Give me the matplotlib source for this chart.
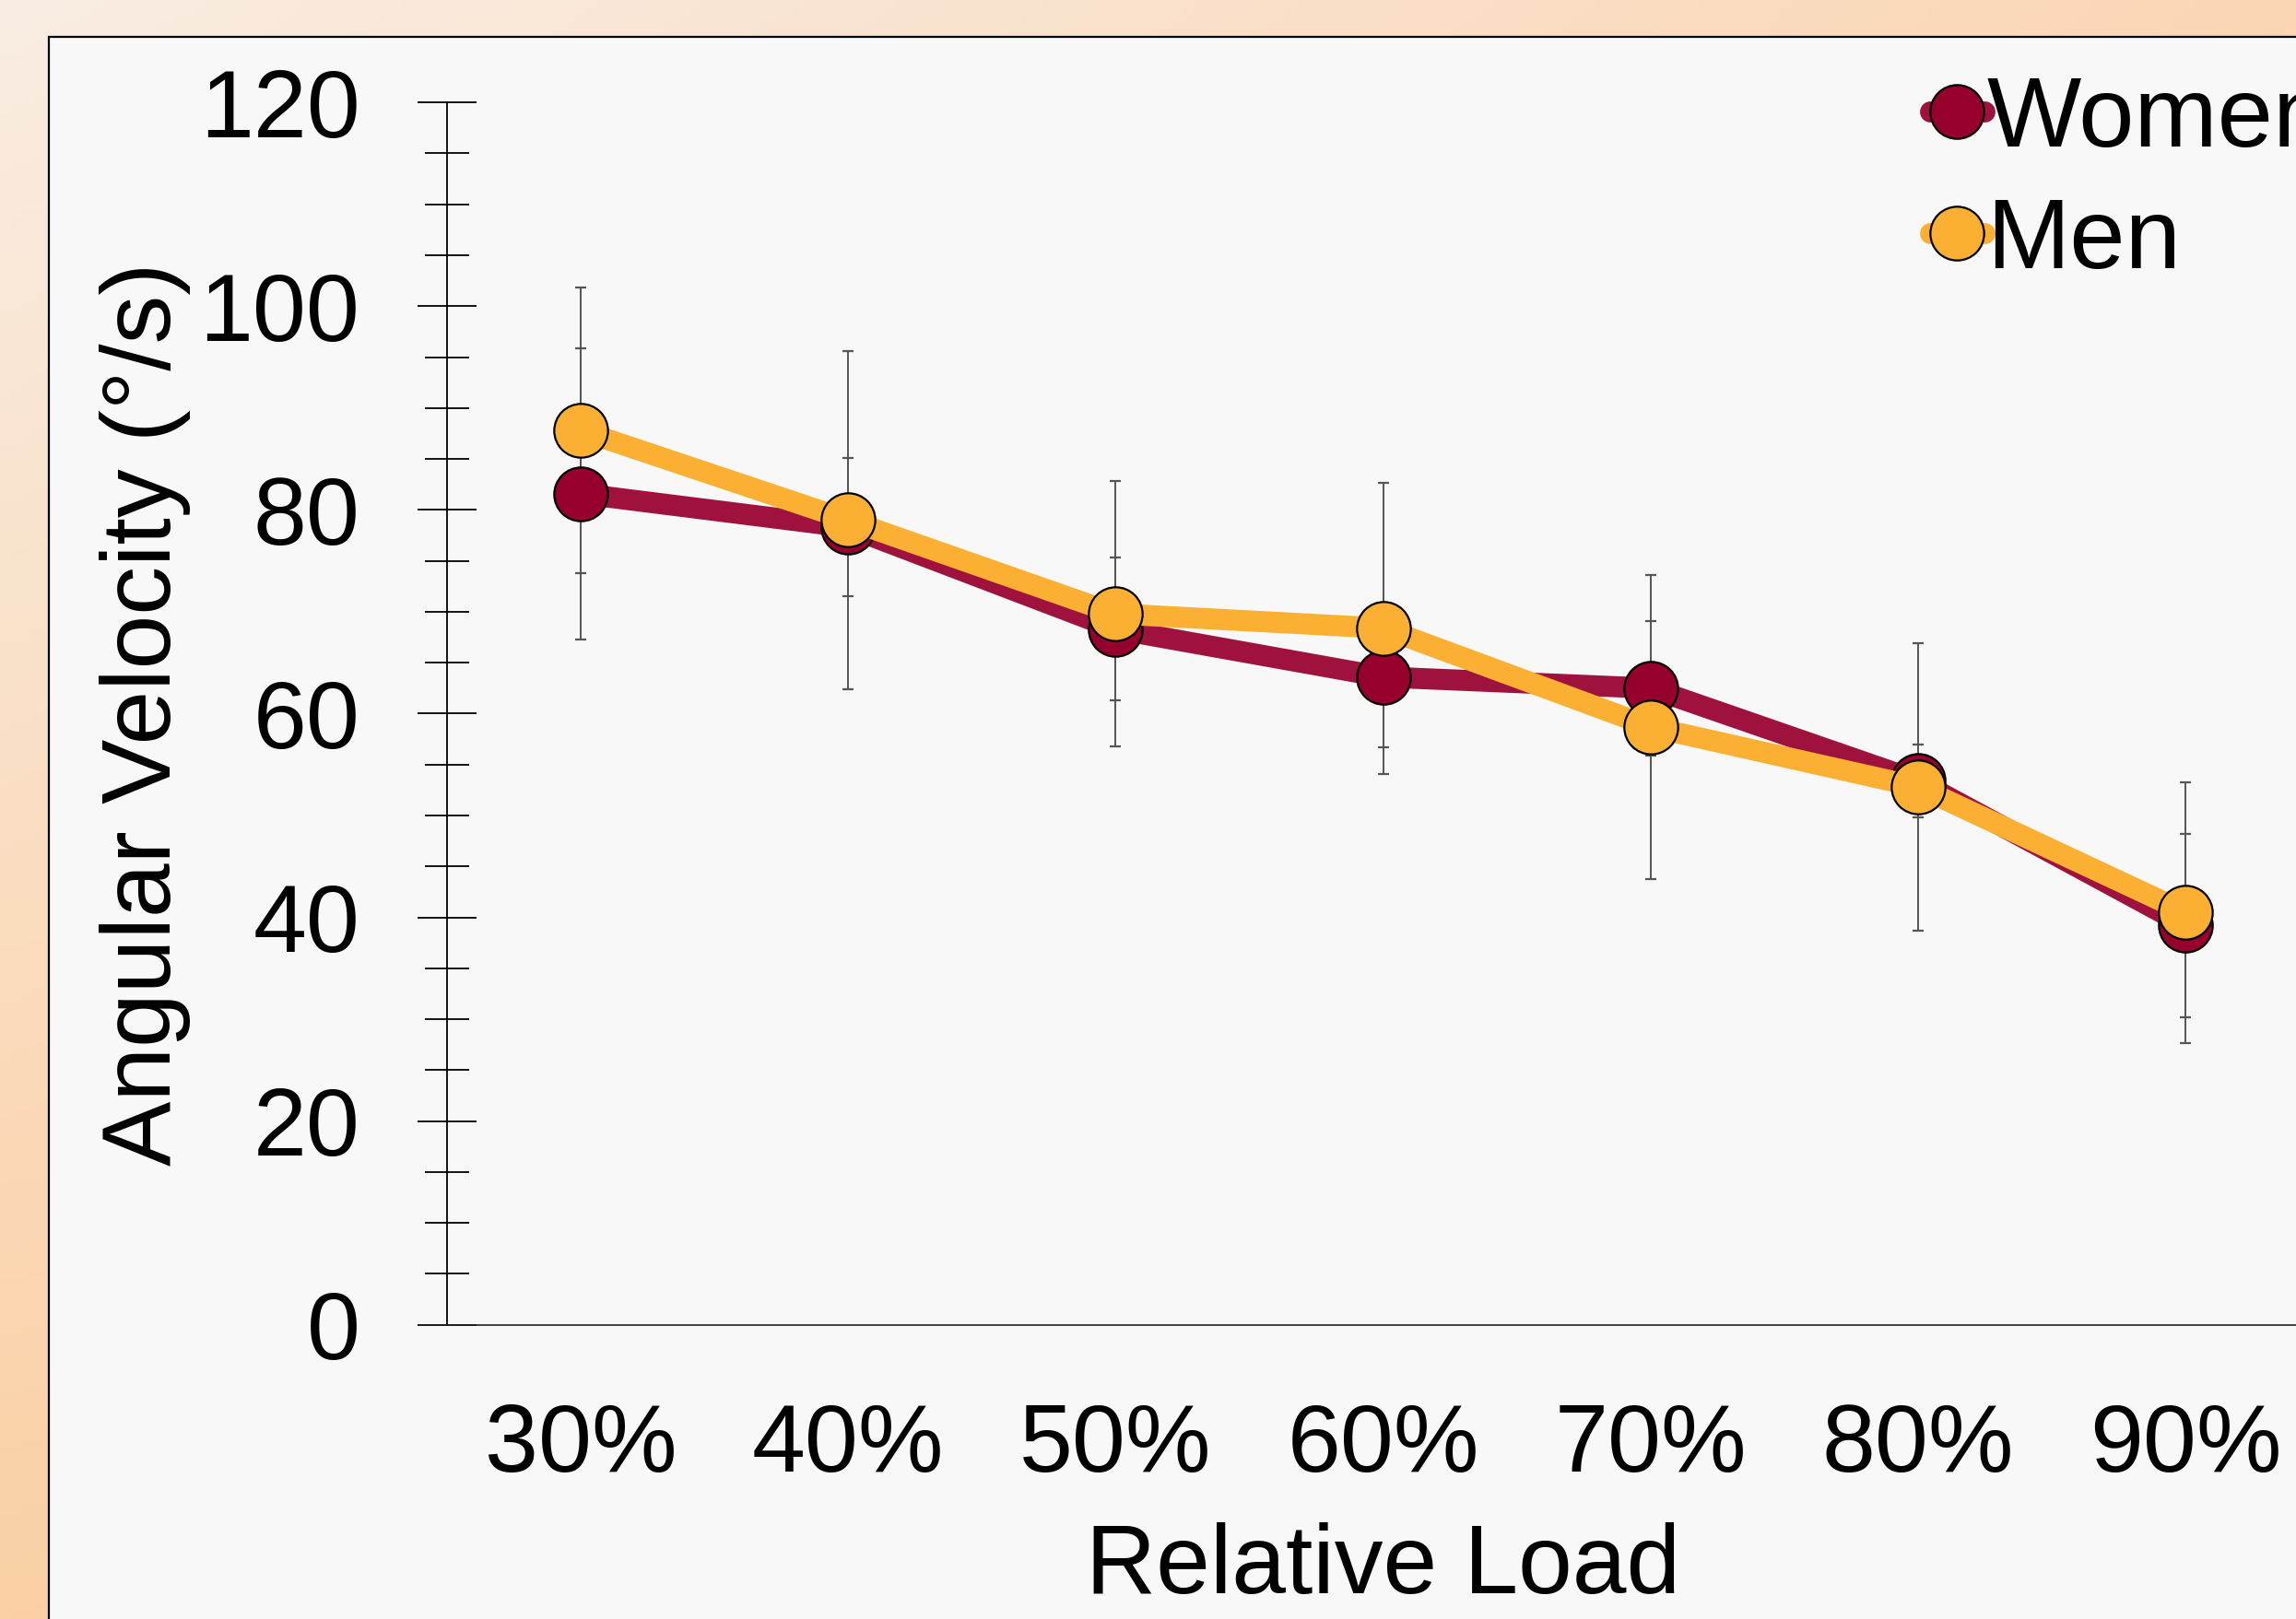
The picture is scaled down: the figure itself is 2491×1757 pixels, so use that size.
import matplotlib
matplotlib.use("Agg")
import matplotlib.pyplot as plt
import numpy as np
from matplotlib.patches import Rectangle
from matplotlib.ticker import MultipleLocator

plt.rcParams['font.family'] = ['Liberation Sans', 'DejaVu Sans']

# data
loads = ["30%", "40%", "50%", "60%", "70%", "80%", "90%"]
women = [81.6, 78.3, 68.3, 63.6, 62.5, 53.4, 39.2]
women_sd = [14.3, 6.8, 7.0, 6.9, 6.6, 3.6, 9.0]
men = [87.8, 79.0, 69.8, 68.4, 58.7, 52.8, 40.5]
men_sd = [14.0, 16.6, 13.0, 14.3, 14.9, 14.1, 12.8]

women_line = "#a0123e"
women_fill = "#96002c"
men_col = "#fbb034"
fs = 75

fig = plt.figure(figsize=(24.91, 17.57), dpi=100)

# peach gradient background
bg = fig.add_axes([0, 0, 1, 1])
bg.set_axis_off()
tl = np.array([249, 237, 227]) / 255
tr = np.array([251, 214, 181]) / 255
bl = np.array([251, 208, 164]) / 255
br = np.array([251, 198, 148]) / 255
u = np.linspace(0, 1, 200)[None, :, None]
v = np.linspace(0, 1, 200)[:, None, None]
grad = (1 - u) * (1 - v) * tl + u * (1 - v) * tr + (1 - u) * v * bl + u * v * br
bg.imshow(grad, extent=[0, 1, 0, 1], aspect='auto', origin='upper')
bg.set_xlim(0, 1)
bg.set_ylim(0, 1)
bg.add_patch(Rectangle((0.0211, -0.2), 1.5, 0.9774 + 0.2, facecolor="#f8f8f8",
                       edgecolor="black", lw=1.6, zorder=3))

ax = fig.add_axes([0.183, 0.1817, 0.9321, 0.755])
ax.set_facecolor("none")
x = np.arange(len(loads))

ax.errorbar(x, women, yerr=women_sd, fmt='none', ecolor="#555555", elinewidth=1.4,
            capsize=4.5, capthick=1.6, zorder=1)
ax.errorbar(x, men, yerr=men_sd, fmt='none', ecolor="#555555", elinewidth=1.4,
            capsize=4.5, capthick=1.6, zorder=1)

ax.plot(x, women, color=women_line, lw=16.5, marker='o', ms=42, mfc=women_fill,
        mec='black', mew=1.6, solid_capstyle='round', solid_joinstyle='round',
        label="Women", zorder=3)
ax.plot(x, men, color=men_col, lw=16.5, marker='o', ms=42, mfc=men_col,
        mec='black', mew=1.6, solid_capstyle='round', solid_joinstyle='round',
        label="Men", zorder=4)

ax.set_xlim(-0.6, 7.4)
ax.set_ylim(0, 120)
ax.spines['top'].set_visible(False)
ax.spines['right'].set_visible(False)
ax.spines['left'].set_position(('data', -0.5))
ax.spines['left'].set_linewidth(1.3)
ax.spines['bottom'].set_linewidth(1.2)
ax.spines['bottom'].set_color("#222222")

ax.yaxis.set_major_locator(MultipleLocator(20))
ax.yaxis.set_minor_locator(MultipleLocator(5))
ax.tick_params(axis='y', which='major', direction='inout', length=46, width=1.3,
               pad=45, labelsize=fs)
ax.tick_params(axis='y', which='minor', direction='inout', length=35, width=1.3)
ax.set_xticks(x)
ax.set_xticklabels(loads)
ax.tick_params(axis='x', length=0, pad=61, labelsize=fs)

ax.set_xlabel("Relative Load", fontsize=fs + 1)
ax.xaxis.set_label_coords(0.45, -0.199)
ax.xaxis.label.set_va('center')
ax.set_ylabel("Angular Velocity (°/s)", fontsize=fs + 1)
ax.yaxis.set_label_coords(-0.1285, 0.5)
ax.yaxis.label.set_va('center')

ax.legend(loc='upper left', bbox_to_anchor=(0.8405, 0.954), bbox_transform=fig.transFigure,
          frameon=False, fontsize=78, handlelength=0.55, handletextpad=0.02,
          labelspacing=0.3, borderpad=0, borderaxespad=0)

fig.savefig("out.png", dpi=100)
